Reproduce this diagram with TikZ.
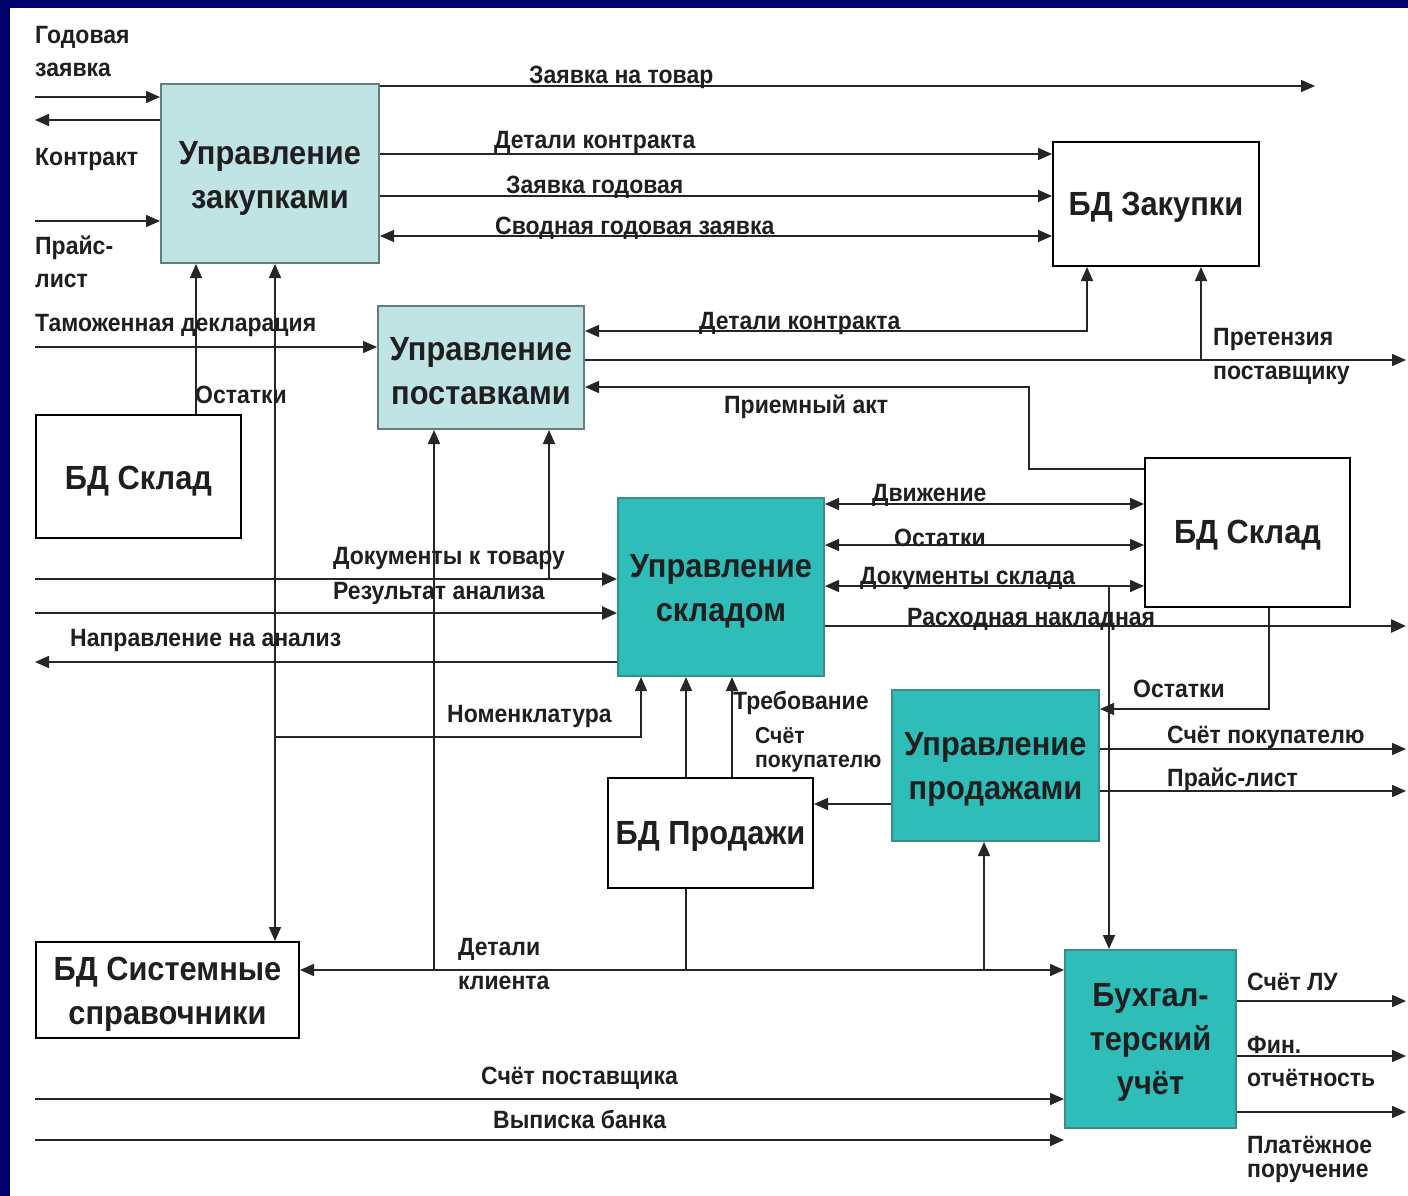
\documentclass[tikz,border=0pt]{standalone}
\usepackage{fontspec}
\setmainfont{Liberation Sans}[FakeStretch=0.92]
\usetikzlibrary{arrows.meta}
\definecolor{navybg}{RGB}{0,0,110}
\definecolor{lteal}{RGB}{192,228,227}
\definecolor{lbord}{RGB}{100,125,125}
\definecolor{dteal}{RGB}{46,189,184}
\definecolor{dbord}{RGB}{60,140,135}
\newcommand{\lblfont}{\fontsize{25}{28}\selectfont\bfseries}
\newcommand{\lbltight}{\fontsize{25}{23.5}\selectfont\bfseries}
\newcommand{\lblsmall}{\fontsize{23}{24}\selectfont\bfseries}
\newcommand{\bxfont}{\fontsize{33.5}{44}\selectfont\bfseries}
\begin{document}
\begin{tikzpicture}[x=1pt,y=-1pt,
  box/.style={draw=black, line width=2pt, inner sep=0pt, anchor=north west},
  lbox/.style={box, fill=lteal, draw=lbord},
  dbox/.style={box, fill=dteal, draw=dbord},
  wbox/.style={box, fill=white},
  bxt/.style={inner sep=0pt, align=center, font=\bxfont, text=black!88},
  lbl/.style={font=\lblfont, inner sep=0pt, anchor=west, text=black!88, yshift=-2.5pt},
  lbl2/.style={lbl, font=\lbltight, align=left},
  conn/.style={line width=1.6pt, draw=black!85},
  thk/.style={line width=2.6pt, draw=black!85},
  arr/.style={conn, -{Triangle[length=14pt,width=12pt]}},
  arrthk/.style={thk, -{Triangle[length=15pt,width=13pt]}},
  darr/.style={conn, {Triangle[length=14pt,width=12pt]}-{Triangle[length=14pt,width=12pt]}},
]
\fill[navybg] (0,0) rectangle (1408,1196);
\fill[white] (10,8) rectangle (1408,1196);
\useasboundingbox (0,0) rectangle (1408,1196);

% boxes
\node[lbox, minimum width=218, minimum height=179] (uz) at (160,83) {};
\node[wbox, minimum width=206, minimum height=124] (bdz) at (1052,141) {};
\node[lbox, minimum width=206, minimum height=123] (up) at (377,305) {};
\node[wbox, minimum width=205, minimum height=123] (bdsl) at (35,414) {};
\node[dbox, minimum width=206, minimum height=178] (us) at (617,497) {};
\node[wbox, minimum width=205, minimum height=149] (bdsr) at (1144,457) {};
\node[dbox, minimum width=207, minimum height=151] (upr) at (891,689) {};
\node[wbox, minimum width=205, minimum height=110] (bdp) at (607,777) {};
\node[wbox, minimum width=263, minimum height=96] (bdss) at (35,941) {};
\node[dbox, minimum width=171, minimum height=178] (bu) at (1064,949) {};

% box texts
\node[bxt] (uz-t) at ([yshift=-5pt]uz.center) {Управление\\закупками};
\node[bxt] (bdz-t) at ([yshift=-3pt]bdz.center) {БД Закупки};
\node[bxt] (up-t) at ([yshift=-4pt]up.center) {Управление\\поставками};
\node[bxt] (bdsl-t) at ([yshift=-5pt]bdsl.center) {БД Склад};
\node[bxt] (us-t) at ([yshift=-4pt]us.center) {Управление\\складом};
\node[bxt] (bdsr-t) at ([yshift=-3pt]bdsr.center) {БД Склад};
\node[bxt] (upr-t) at ([yshift=-4pt]upr.center) {Управление\\продажами};
\node[bxt] (bdp-t) at ([yshift=-3pt]bdp.center) {БД Продажи};
\node[bxt] (bdss-t) at ([yshift=-4pt]bdss.center) {БД Системные\\справочники};
\node[bxt] (bu-t) at ([yshift=-3pt]bu.center) {Бухгал-\\терский\\учёт};

% free ends
\coordinate (eL1) at (35,97);
\coordinate (eL2) at (35,120);
\coordinate (eL3) at (35,221);
\coordinate (eL4) at (35,347);
\coordinate (eL5) at (35,579);
\coordinate (eL6) at (35,613);
\coordinate (eL7) at (35,662);
\coordinate (eL8) at (35,1099);
\coordinate (eL9) at (35,1140);
\coordinate (eR1) at (1315,86);
\coordinate (eR2) at (1406,360);
\coordinate (eR3) at (1406,626);
\coordinate (eR4) at (1406,749);
\coordinate (eR5) at (1406,791);
\coordinate (eR6) at (1406,1001);
\coordinate (eR7) at (1406,1056);
\coordinate (eR8) at (1406,1112);

% left inputs/outputs of purchasing
\draw[arr] (eL1) -- (eL1 -| uz.west);
\draw[arr] (eL2 -| uz.west) -- (eL2);
\draw[arr] (eL3) -- (eL3 -| uz.west);
\node[lbl] (t1) at (35,35) {Годовая};
\node[lbl] (t2) at (35,67) {заявка};
\node[lbl] (t3) at (35,157) {Контракт};
\node[lbl] (t4) at (35,245) {Прайс-};
\node[lbl] (t5) at (35,278) {лист};

% purchasing to right
\draw[arr] (eR1 -| uz.east) -- (eR1);
\draw[arr] (uz.east |- 0,154) -- (bdz.west |- 0,154);
\draw[arr] (uz.east |- 0,196) -- (bdz.west |- 0,196);
\draw[darr] (uz.east |- 0,236) -- (bdz.west |- 0,236);
\node[lbl] (t6) at (529,75) {Заявка на товар};
\node[lbl] (t7) at (494,140) {Детали контракта};
\node[lbl] (t8) at (506,185) {Заявка годовая};
\node[lbl] (t9) at (495,226) {Сводная годовая заявка};

% verticals under purchasing
\draw[arr] (bdsl.north -| 196,0) -- (uz.south -| 196,0);
\draw[darr] (uz.south -| 275,0) -- (bdss.north -| 275,0);
\node[lbl] (t10) at (195,392) {Остатки};

% deliveries
\draw[arr] (eL4) -- (eL4 -| up.west);
\node[lbl] (t11) at (35,323) {Таможенная декларация};
\draw[darr] (up.east |- 0,331) -- (1087,331) -- (bdz.south -| 1087,0);
\node[lbl] (t12) at (699,321) {Детали контракта};
\draw[arr] (up.east |- 0,360) -- (eR2);
\draw[arr] (1201,360) -- (bdz.south -| 1201,0);
\node[lbl] (t13) at (1213,337) {Претензия};
\node[lbl] (t14) at (1213,373) {поставщику};
\draw[arr] (bdsr.west |- 0,469) -- (1029,469) -- (1029,387) -- (up.east |- 0,387);
\node[lbl] (t15) at (724,404) {Приемный акт};
\draw[arr] (434,970) -- (up.south -| 434,0);
\draw[arr] (549,579) -- (up.south -| 549,0);

% warehouse
\draw[arrthk] (eL5) -- (eL5 -| us.west);
\draw[arrthk] (eL6) -- (eL6 -| us.west);
\draw[arr] (eL7 -| us.west) -- (eL7);
\node[lbl] (t16) at (333,556) {Документы к товару};
\node[lbl] (t17) at (333,591) {Результат анализа};
\node[lbl] (t18) at (70,638) {Направление на анализ};
\draw[arr] (275,737) -- (641,737) -- (us.south -| 641,0);
\node[lbl] (t19) at (447,714) {Номенклатура};
\draw[arr] (bdp.north -| 686,0) -- (us.south -| 686,0);
\draw[conn] (bdp.south -| 686,0) -- (686,970);
\draw[arr] (bdp.north -| 732,0) -- (us.south -| 732,0);
\node[lbl] (t20) at (733,700) {Требование};
\node[lbl2, font=\lblsmall] (t21) at (755,747) {Счёт\\покупателю};

\draw[darr] (us.east |- 0,504) -- (bdsr.west |- 0,504);
\draw[darr] (us.east |- 0,545) -- (bdsr.west |- 0,545);
\draw[darr] (us.east |- 0,586) -- (bdsr.west |- 0,586);
\draw[arrthk] (eR3 -| us.east) -- (eR3);
\node[lbl] (t23) at (872,493) {Движение};
\node[lbl] (t24) at (894,535) {Остатки};
\node[lbl] (t25) at (860,576) {Документы склада};
\node[lbl] (t26) at (907,617) {Расходная накладная};
\draw[arr] (1109,586) -- (bu.north -| 1109,0);

% sales
\draw[arr] (bdsr.south -| 1269,0) -- (1269,709) -- (upr.east |- 0,709);
\node[lbl] (t27) at (1133,686) {Остатки};
\draw[arr] (eR4 -| upr.east) -- (eR4);
\draw[arr] (eR5 -| upr.east) -- (eR5);
\node[lbl] (t28) at (1167,735) {Счёт покупателю};
\node[lbl] (t29) at (1167,777) {Прайс-лист};
\draw[arr] (upr.west |- 0,804) -- (bdp.east |- 0,804);
\draw[arr] (984,970) -- (upr.south -| 984,0);

% client details
\draw[darr] (bdss.east |- 0,970) -- (bu.west |- 0,970);
\node[lbl] (t30) at (458,947) {Детали};
\node[lbl] (t31) at (458,980) {клиента};

% accounting
\draw[arr] (eR6 -| bu.east) -- (eR6);
\draw[arr] (eR7 -| bu.east) -- (eR7);
\draw[arr] (eR8 -| bu.east) -- (eR8);
\node[lbl] (t32) at (1247,979) {Счёт ЛУ};
\node[lbl] (t33) at (1247,1042) {Фин.};
\node[lbl] (t34) at (1247,1075) {отчётность};
\node[lbl2] (t35) at (1247,1157) {Платёжное\\поручение};
\draw[arr] (eL8) -- (eL8 -| bu.west);
\draw[arr] (eL9) -- (eL9 -| bu.west);
\node[lbl] (t37) at (481,1076) {Счёт поставщика};
\node[lbl] (t38) at (493,1117) {Выписка банка};
\end{tikzpicture}
\end{document}
